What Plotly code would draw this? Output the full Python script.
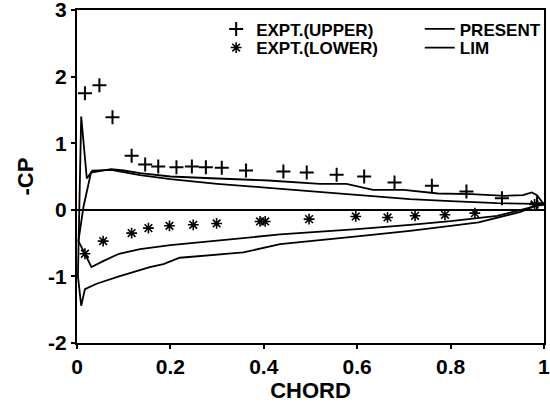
import plotly.graph_objects as go

# Experimental data
upper_x = [0.017, 0.048, 0.076, 0.117, 0.146, 0.174, 0.213, 0.246, 0.276, 0.31,
           0.362, 0.442, 0.492, 0.556, 0.615, 0.68, 0.76, 0.834, 0.91, 0.985]
upper_cp = [1.75, 1.87, 1.39, 0.81, 0.68, 0.65, 0.64, 0.65, 0.64, 0.63,
            0.59, 0.575, 0.56, 0.525, 0.50, 0.41, 0.36, 0.275, 0.175, 0.10]

lower_x = [0.017, 0.056, 0.117, 0.153, 0.198, 0.249, 0.299, 0.392, 0.403,
           0.497, 0.597, 0.665, 0.724, 0.788, 0.852, 0.98]
lower_cp = [-0.66, -0.47, -0.35, -0.275, -0.24, -0.225, -0.205, -0.175, -0.175,
            -0.14, -0.10, -0.115, -0.09, -0.075, -0.05, 0.08]

# PRESENT (lower surface TE->LE, then upper surface LE->TE)
present_x = [1.0, 0.98, 0.9, 0.8, 0.713, 0.6, 0.435, 0.3, 0.2, 0.135, 0.09, 0.056,
             0.031, 0.017, 0.003, 0.014, 0.03, 0.073, 0.10, 0.135, 0.2, 0.3, 0.41,
             0.52, 0.577, 0.634, 0.70, 0.773, 0.845, 0.917, 0.955, 0.974, 0.985, 1.0]
present_cp = [0.08, 0.05, -0.09, -0.17, -0.225, -0.29, -0.37, -0.46, -0.53, -0.59, -0.66, -0.77,
              -0.86, -0.66, -0.47, 0.05, 0.56, 0.61, 0.59, 0.55, 0.50, 0.47, 0.44,
              0.39, 0.39, 0.30, 0.30, 0.245, 0.235, 0.21, 0.22, 0.26, 0.22, 0.08]

# LIM
lim_x = [1.0, 0.98, 0.95, 0.9, 0.86, 0.8, 0.713, 0.6, 0.435, 0.356, 0.22, 0.185, 0.156,
         0.09, 0.042, 0.017, 0.009, 0.002, 0.004, 0.009, 0.021, 0.033, 0.073, 0.135,
         0.2, 0.3, 0.41, 0.5, 0.6, 0.713, 0.8, 0.9, 0.98, 1.0]
lim_cp = [0.08, 0.06, -0.03, -0.12, -0.19, -0.24, -0.315, -0.40, -0.515, -0.64, -0.72, -0.815, -0.86,
          -1.0, -1.11, -1.19, -1.44, -1.0, -0.3, 1.40, 0.47, 0.59, 0.60, 0.52,
          0.46, 0.39, 0.33, 0.28, 0.22, 0.16, 0.13, 0.10, 0.09, 0.08]

x_ticks = [0, 0.2, 0.4, 0.6, 0.8, 1]
x_tick_labels = ["0", "0.2", "0.4", "0.6", "0.8", "1"]
y_ticks = [-2, -1, 0, 1, 2, 3]
y_tick_labels = ["-2", "-1", "0", "1", "2", "3"]

FONT = "Liberation Sans, Arial, Helvetica, sans-serif"
BOLD = dict(family=FONT, color="black", weight="bold")

fig = go.Figure()
fig.add_trace(go.Scatter(x=upper_x, y=upper_cp, mode="markers", name="EXPT.(UPPER)",
                         marker=dict(symbol="cross-thin-open", size=10, color="black",
                                     line=dict(width=2, color="black")),
                         legend="legend"))
fig.add_trace(go.Scatter(x=lower_x, y=lower_cp, mode="markers", name="EXPT.(LOWER)",
                         marker=dict(symbol="asterisk-open", size=9, color="black",
                                     line=dict(width=1.6, color="black")),
                         legend="legend2"))
fig.add_trace(go.Scatter(x=present_x, y=present_cp, mode="lines", name="PRESENT",
                         line=dict(color="black", width=1.8), legend="legend3"))
fig.add_trace(go.Scatter(x=lim_x, y=lim_cp, mode="lines", name="LIM",
                         line=dict(color="black", width=1.8), legend="legend4"))

leg_common = dict(xanchor="left", yanchor="top",
                  font=dict(size=17, **BOLD),
                  bgcolor="rgba(0,0,0,0)", borderwidth=0, itemclick=False)

fig.update_layout(
    width=550, height=403,
    margin=dict(l=77, r=6, t=10, b=60, autoexpand=False),
    paper_bgcolor="white", plot_bgcolor="white",
    font=dict(size=18, **BOLD),
    legend=dict(x=0.298, y=0.996, **leg_common),
    legend2=dict(x=0.298, y=0.940, **leg_common),
    legend3=dict(x=0.734, y=0.996, **leg_common),
    legend4=dict(x=0.734, y=0.940, **leg_common),
    showlegend=True,
)
fig.update_xaxes(range=[0, 1.0001], tickvals=x_ticks, ticktext=x_tick_labels,
                 showgrid=False, zeroline=False, ticklabeloverflow="allow", automargin=False,
                 showline=True, linecolor="black", linewidth=2, mirror=True,
                 ticks="outside", ticklen=4, tickwidth=1.5, tickcolor="black",
                 tickfont=dict(size=21, **BOLD),
                 title=dict(text="CHORD", font=dict(size=22, **BOLD), standoff=0))
fig.update_yaxes(range=[-2, 3.0001], tickvals=y_ticks, ticktext=y_tick_labels,
                 showgrid=False, zeroline=True, zerolinecolor="black", zerolinewidth=1.8,
                 ticklabeloverflow="allow", automargin=False,
                 showline=True, linecolor="black", linewidth=2, mirror=True,
                 ticks="outside", ticklen=4, tickwidth=1.5, tickcolor="black",
                 tickfont=dict(size=21, **BOLD),
                 title=dict(text="-CP", font=dict(size=22, **BOLD), standoff=8))

fig.write_html("out.html")
